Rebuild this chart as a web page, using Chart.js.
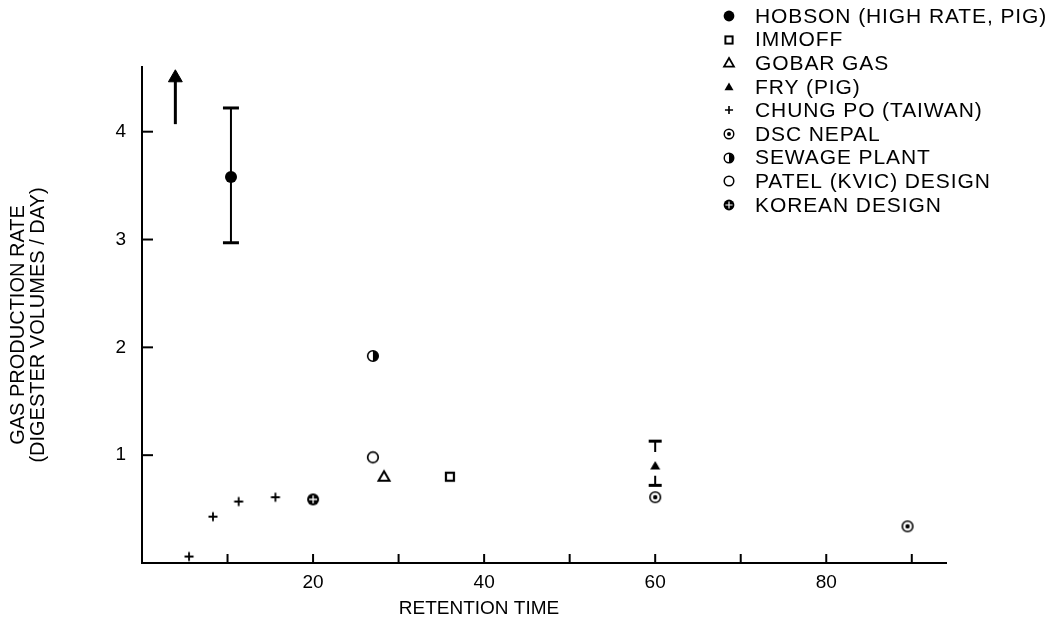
<!DOCTYPE html>
<html><head><meta charset="utf-8">
<script src="https://cdn.jsdelivr.net/npm/chart.js@4.4.1/dist/chart.umd.min.js"></script>
<style>html,body{margin:0;padding:0;background:#fff}#wrap{width:1062px;height:630px;position:relative}</style>
</head><body><div id="wrap"><canvas id="c" width="1062" height="630"></canvas></div>
<script>
// ---- data ----
const seriesNames = ['HOBSON (HIGH RATE, PIG)','IMMOFF','GOBAR GAS','FRY (PIG)','CHUNG PO (TAIWAN)','DSC NEPAL','SEWAGE PLANT','PATEL (KVIC) DESIGN','KOREAN DESIGN'];
const markerTypes = ['hobson','immoff','gobar','fry','chung','dsc','sewage','patel','korean'];
const hobsonX = [10.4];   const hobsonY = [3.58];
const hobsonErr = [2.97, 4.22];
const immoffX = [36];     const immoffY = [0.80];
const gobarX = [28.3];    const gobarY = [0.80];
const fryX = [60];        const fryY = [0.90];
const fryErrLow = [0.72, 0.81];
const fryErrHigh = [1.03, 1.13];
const chungX = [5.5, 8.3, 11.3, 15.6];  const chungY = [0.06, 0.43, 0.57, 0.61];
const dscX = [60, 89.5];  const dscY = [0.61, 0.34];
const sewageX = [27];     const sewageY = [1.92];
const patelX = [27];      const patelY = [0.98];
const koreanX = [20];     const koreanY = [0.59];
const arrowX = [3.9];     const arrowY = [4.07, 4.5];
const xTickVals = [10,20,30,40,50,60,70,80,90];
const xTickLabels = [20,40,60,80];
const yTickVals = [1,2,3,4];
const yTickLabels = [1,2,3,4];
const xTitle = 'RETENTION TIME';
const yTitle = ['GAS PRODUCTION RATE','(DIGESTER VOLUMES / DAY)'];

const FONT = '"Liberation Sans", Arial, Helvetica, sans-serif';

function makeMarker(type, s){
  const size = Math.ceil(20*s); const c = document.createElement('canvas');
  c.width = c.height = size;
  const g = c.getContext('2d'); g.translate(size/2, size/2); g.scale(s, s);
  g.strokeStyle = '#000'; g.fillStyle = '#000'; g.lineWidth = 1.8;
  const circ = (r)=>{ g.beginPath(); g.arc(0,0,r,0,Math.PI*2); };
  switch(type){
    case 'hobson': circ(6); g.fill(); break;
    case 'immoff': g.fillStyle='#fff'; g.fillRect(-4.5,-4.5,9,9); g.lineWidth=2.2; g.strokeRect(-4,-4,8,8); break;
    case 'gobar': g.beginPath(); g.moveTo(0,-5.5); g.lineTo(5.5,4); g.lineTo(-5.5,4); g.closePath(); g.fillStyle='#fff'; g.fill(); g.lineWidth=2; g.stroke(); break;
    case 'fry': g.beginPath(); g.moveTo(0,-5); g.lineTo(5,3.5); g.lineTo(-5,3.5); g.closePath(); g.fill(); break;
    case 'chung': g.beginPath(); g.moveTo(-4.5,0); g.lineTo(4.5,0); g.moveTo(0,-4.5); g.lineTo(0,4.5); g.lineWidth=1.8; g.stroke(); break;
    case 'dsc': circ(5.3); g.fillStyle='#fff'; g.fill(); g.lineWidth=1.6; g.stroke(); g.fillStyle='#000'; circ(2.2); g.fill(); break;
    case 'sewage': circ(5.3); g.fillStyle='#fff'; g.fill(); g.lineWidth=1.6; g.stroke(); g.fillStyle='#000'; g.beginPath(); g.arc(0,0,5.3,-Math.PI/2,Math.PI/2); g.closePath(); g.fill(); break;
    case 'patel': circ(5.3); g.fillStyle='#fff'; g.fill(); g.lineWidth=1.7; g.stroke(); break;
    case 'korean': circ(6); g.fill(); g.strokeStyle='#fff'; g.lineWidth=1.3; g.beginPath(); g.moveTo(-4,0); g.lineTo(4,0); g.moveTo(0,-4); g.lineTo(0,4); g.stroke(); break;
  }
  return c;
}
const plotMarkers = markerTypes.map(t => makeMarker(t, 1));
const legendMarkers = markerTypes.map(t => makeMarker(t, 0.9));

const pts = (xs, ys) => xs.map((x,i)=>({x, y: ys[i]}));
const markerDs = (i, xs, ys) => ({label: seriesNames[i], data: pts(xs, ys), pointStyle: plotMarkers[i], pointRadius: 7, showLine:false, order:0});

const datasets = [
  markerDs(0, hobsonX, hobsonY),
  markerDs(1, immoffX, immoffY),
  markerDs(2, gobarX, gobarY),
  markerDs(3, fryX, fryY),
  markerDs(4, chungX, chungY),
  markerDs(5, dscX, dscY),
  markerDs(6, sewageX, sewageY),
  markerDs(7, patelX, patelY),
  markerDs(8, koreanX, koreanY),
  { label:'hobson-err', data: hobsonErr.map(y=>({x:hobsonX[0], y})), showLine:true, borderColor:'#000', borderWidth:2,
    pointStyle:'line', pointRadius:8, pointBorderWidth:3, pointBorderColor:'#000', order:1 },
  { label:'fry-err', data: [{x:fryX[0],y:fryErrLow[0]},{x:fryX[0],y:fryErrLow[1]},{x:fryX[0],y:null},{x:fryX[0],y:fryErrHigh[0]},{x:fryX[0],y:fryErrHigh[1]}],
    showLine:true, spanGaps:false, borderColor:'#000', borderWidth:2,
    pointStyle:'line', pointRadius:[6.5,0,0,0,6.5], pointBorderWidth:3, pointBorderColor:'#000', order:1 },
  { label:'arrow', data: arrowY.map(y=>({x:arrowX[0], y})), showLine:true, borderColor:'#000', borderWidth:3,
    pointStyle:['circle','triangle'], pointRadius:[0,8], pointBackgroundColor:'#000', pointBorderColor:'#000', pointBorderWidth:1, order:1 }
];

const inwardTicks = {
  id:'inwardTicks',
  afterDatasetsDraw(chart){
    const {ctx, scales:{x, y}, chartArea:a} = chart;
    ctx.save(); ctx.strokeStyle='#000'; ctx.lineWidth=2;
    xTickVals.forEach(v=>{ const px=x.getPixelForValue(v); ctx.beginPath(); ctx.moveTo(px,a.bottom); ctx.lineTo(px,a.bottom-9); ctx.stroke(); });
    yTickVals.forEach(v=>{ const py=y.getPixelForValue(v); ctx.beginPath(); ctx.moveTo(a.left,py); ctx.lineTo(a.left+11,py); ctx.stroke(); });
    ctx.restore();
  }
};

const textPlugin = {
  id:'customText',
  afterDraw(chart){
    const ctx = chart.ctx; ctx.save();
    ctx.fillStyle = '#000'; ctx.textBaseline = 'middle';
    // x-axis title
    ctx.font = '19px ' + FONT; ctx.textAlign = 'center';
    ctx.fillText(xTitle, 479, 609);
    // y-axis title (two rotated lines)
    ctx.save();
    ctx.font = '20px ' + FONT; ctx.textAlign = 'center';
    ctx.translate(18, 325); ctx.rotate(-Math.PI/2);
    yTitle.forEach((line, i)=> ctx.fillText(line, 0, i*20));
    ctx.restore();
    // legend
    ctx.font = '21px ' + FONT; ctx.textAlign = 'left';
    try { ctx.letterSpacing = '0.9px'; } catch(e){}
    const top = 16, step = 23.6, mx = 729, tx = 755;
    seriesNames.forEach((name, i)=>{
      const yy = top + i*step; const m = legendMarkers[i];
      ctx.drawImage(m, Math.round(mx - m.width/2), Math.round(yy - m.height/2));
      ctx.fillText(name, tx, yy + 1);
    });
    ctx.restore();
  }
};

new Chart(document.getElementById('c'), {
  type:'scatter',
  data:{ datasets },
  options:{
    responsive:false, animation:false, devicePixelRatio:1,
    layout:{ padding:{ top:67, right:116, left:0, bottom:0 } },
    plugins:{ legend:{ display:false }, tooltip:{ enabled:false } },
    scales:{
      x:{ type:'linear', min:0, max:94,
        afterFit(s){ s.height = 67; },
        grid:{ display:false, drawTicks:false }, border:{ display:true, color:'#000', width:2 },
        ticks:{ stepSize:10, includeBounds:false, autoSkip:false, maxRotation:0, padding:8, color:'#000',
          font:{ family:FONT, size:19 }, callback:(v)=> xTickLabels.includes(v) ? String(v) : '' },
        title:{ display:false }
      },
      y:{ type:'linear', min:0, max:4.6,
        afterFit(s){ s.width = 142; },
        grid:{ display:false, drawTicks:false }, border:{ display:true, color:'#000', width:2 },
        ticks:{ stepSize:1, includeBounds:false, autoSkip:false, padding:16, color:'#000',
          font:{ family:FONT, size:19 }, callback:(v)=> yTickLabels.includes(v) ? String(v) : '' },
        title:{ display:false }
      }
    }
  },
  plugins:[inwardTicks, textPlugin]
});
</script></body></html>
